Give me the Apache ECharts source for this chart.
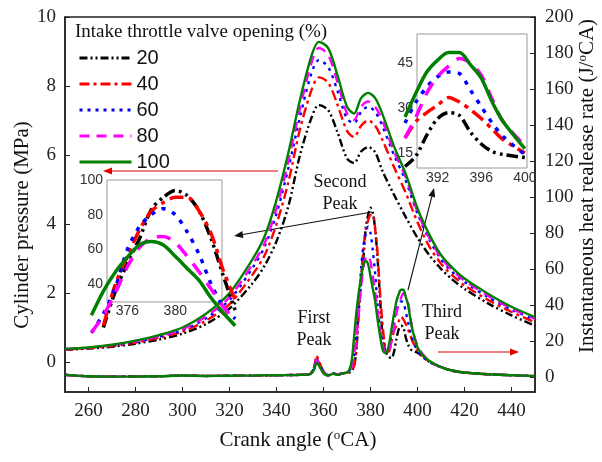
<!DOCTYPE html>
<html>
<head>
<meta charset="utf-8">
<script src="https://cdn.jsdelivr.net/npm/echarts@6/dist/echarts.min.js"></script>
<style>
  html, body { margin: 0; padding: 0; background: #fff; }
  #chart { width: 602px; height: 462px; }
</style>
</head>
<body>
<div id="chart"></div>
<script>
// crank angle grid for cylinder pressure (MPa)
const caP = [250, 260, 270, 280, 290, 300, 310, 320, 330, 335, 340, 345, 350, 355, 358, 362, 366, 370, 373, 376, 379, 382, 385, 390, 395, 400, 405, 410, 415, 420, 430, 440, 450]
const p20 = [0.35, 0.39, 0.44, 0.53, 0.65, 0.82, 1.1, 1.55, 2.3, 2.8, 3.5, 4.5, 6.0, 7.1, 7.45, 7.3, 6.65, 5.9, 5.77, 6.1, 6.23, 6.08, 5.55, 4.85, 4.2, 3.6, 3.1, 2.7, 2.38, 2.12, 1.7, 1.35, 1.05]
const p40 = [0.36, 0.4, 0.46, 0.56, 0.7, 0.88, 1.2, 1.68, 2.55, 3.1, 4.0, 5.2, 6.75, 7.9, 8.25, 8.1, 7.45, 6.7, 6.52, 6.85, 7.0, 6.85, 6.45, 5.65, 4.9, 4.05, 3.35, 2.85, 2.5, 2.22, 1.8, 1.45, 1.15]
const p60 = [0.37, 0.41, 0.48, 0.58, 0.73, 0.92, 1.27, 1.8, 2.75, 3.35, 4.3, 5.6, 7.1, 8.4, 8.75, 8.55, 7.85, 7.05, 6.93, 7.25, 7.4, 7.25, 6.85, 6.0, 5.25, 4.3, 3.55, 2.98, 2.6, 2.32, 1.88, 1.52, 1.22]
const p80 = [0.37, 0.41, 0.49, 0.6, 0.75, 0.95, 1.32, 1.88, 2.85, 3.45, 4.45, 5.8, 7.35, 8.7, 9.1, 8.9, 8.1, 7.2, 7.02, 7.4, 7.55, 7.4, 7.0, 6.1, 5.35, 4.35, 3.6, 3.02, 2.65, 2.36, 1.92, 1.55, 1.25]
const p100 = [0.38, 0.42, 0.5, 0.62, 0.78, 1.0, 1.4, 2.0, 3.0, 3.65, 4.7, 6.05, 7.6, 8.9, 9.28, 9.1, 8.3, 7.4, 7.2, 7.65, 7.8, 7.65, 7.2, 6.25, 5.45, 4.45, 3.7, 3.1, 2.72, 2.42, 1.98, 1.6, 1.3]

// crank angle grid for heat release rate (J/oCA)
const caQ = [250, 260, 270, 280, 290, 300, 310, 320, 330, 340, 350, 354,
  356, 357, 358, 360, 362, 364, 366, 368, 370,
  371, 372, 373, 374, 375, 376, 377, 378, 379, 380, 381, 382, 383, 384, 385, 386, 387, 388, 389, 390, 391, 392, 393, 394, 395, 396, 397, 398,
  400, 402, 405, 410, 415, 420, 430, 440, 450]
const q20 = [1.2, 0.4, 0.2, 0.3, 0.4, 0.8, 0.6, 0.7, 0.8, 1.0, 1.2, 1.5,
  5, 10.5, 8, 3, 1, 2, 1.5, 2, 2.5,
  2.5, 3.5, 6, 15, 36, 52, 66, 83, 90, 94, 91, 82, 66, 45, 25, 16, 12.5, 11, 10.5, 14, 21, 26.5, 28.5, 27.5, 22, 18, 15.5, 14.5,
  13.5, 11.5, 8.5, 5.5, 3.5, 2.5, 1.5, 1, 0.5]
const q40 = [1.2, 0.4, 0.2, 0.3, 0.4, 0.8, 0.6, 0.7, 0.8, 1.0, 1.2, 1.5,
  5.5, 12, 9, 3, 1, 2, 1.5, 2, 2.5,
  3, 4, 6, 16, 40, 56, 71, 82, 87, 90, 90, 82, 69, 48, 31, 19, 14, 14.5, 20, 25.5, 28.5, 31, 33.5, 32, 29.5, 26.5, 23, 19.5,
  15, 12, 8.5, 5.5, 3.5, 2.5, 1.5, 1, 0.5]
const q60 = [1.2, 0.4, 0.2, 0.3, 0.4, 0.8, 0.6, 0.7, 0.8, 1.0, 1.2, 1.5,
  5, 10, 8, 3, 1, 2, 1.5, 2, 2.5,
  3.5, 6, 12, 23, 38, 60, 73, 80, 83.5, 80, 70, 57, 40, 27, 20, 15, 13.5, 16, 25, 32, 37, 40.5, 42, 41.5, 36, 30.5, 25, 20.5,
  14.5, 11.5, 8.5, 5.5, 3.5, 2.5, 1.5, 1, 0.5]
const q80 = [1.2, 0.4, 0.2, 0.3, 0.4, 0.8, 0.6, 0.7, 0.8, 1.0, 1.2, 1.5,
  5, 9.5, 7.5, 2.5, 1, 2, 1.5, 2, 2.5,
  3.5, 6, 12, 22, 35, 50, 61, 66.5, 67.5, 64, 56, 47, 37, 27, 19, 14.5, 13, 15, 20, 27, 35, 40.5, 44, 46.5, 45, 41, 33, 25.5,
  17.5, 13, 9, 5.5, 3.5, 2.5, 1.5, 1, 0.5]
const q100 = [1.2, 0.4, 0.2, 0.3, 0.4, 0.8, 0.6, 0.7, 0.8, 1.0, 1.2, 1.5,
  4, 8, 6.5, 2, 0.8, 1.8, 1.2, 2, 2.5,
  4, 9, 22, 36, 47, 55.5, 62.5, 64.5, 62.5, 56, 49, 42, 32, 23.5, 16, 13.5, 14, 19, 27, 35, 42, 46, 48.5, 48.5, 44.5, 40, 32, 25.5,
  16.5, 12.5, 9, 5.5, 3.5, 2.5, 1.5, 1.0, 0.5]

const openings = ['20', '40', '60', '80', '100']
const pressure = [p20, p40, p60, p80, p100]
const heat = [q20, q40, q60, q80, q100]

// tick labels
const xTicks = [260, 280, 300, 320, 340, 360, 380, 400, 420, 440]
const pTicks = [0, 2, 4, 6, 8, 10]
const qTicks = [0, 20, 40, 60, 80, 100, 120, 140, 160, 180, 200]
const inset1X = [376, 380, 384]
const inset1Y = [40, 60, 80, 100]
const inset2X = [392, 396, 400]
const inset2Y = [15, 30, 45]

const SERIF = 'Liberation Serif, Times New Roman, serif'
const SANS = 'Liberation Sans, Arial, sans-serif'

const looks = {
  '20': { color: '#000000', type: [8, 3, 2, 3, 2, 3] },
  '40': { color: '#ff0000', type: [10, 4, 3, 4] },
  '60': { color: '#0000ff', type: [3, 5] },
  '80': { color: '#ff00ff', type: [10, 7] },
  '100': { color: '#008000', type: 'solid' }
}

const zip = (xs, ys) => xs.map((x, i) => [x, ys[i]])

// part of a heat release curve shown in an inset
const slice = (ys, lo, hi) => caQ.map((x, i) => [x, ys[i]]).filter(d => d[0] >= lo && d[0] <= hi && d[1] >= 10)

const scaleDash = (t, k) => Array.isArray(t) ? t.map(v => v * k) : t

// inset frames (labelled) and the wider, hidden data areas drawn at the same scale
const in1 = { left: 107, top: 180, width: 115, height: 122, x: [374.3, 383.9], y: [29.7, 100] }
const in2 = { left: 417, top: 34, width: 110, height: 134, x: [390.1, 400.2], y: [10, 54.7] }
const widen = (f, x, y) => {
  const kx = f.width / (f.x[1] - f.x[0]), ky = f.height / (f.y[1] - f.y[0])
  return {
    left: f.left - (f.x[0] - x[0]) * kx, width: (x[1] - x[0]) * kx,
    top: f.top - (y[1] - f.y[1]) * ky, height: (y[1] - y[0]) * ky, x, y
  }
}
const in1d = widen(in1, [371, 387], [0, 100])
const in2d = widen(in2, [387, 402], [0, 54.7])

const series = []
openings.forEach((name, i) => {
  const lk = looks[name]
  series.push({
    name, type: 'line', xAxisIndex: 0, yAxisIndex: 0, symbol: 'none', smooth: 0.3,
    lineStyle: { color: lk.color, type: lk.type, width: 2.4 }, itemStyle: { color: lk.color },
    data: zip(caP, pressure[i])
  })
})
openings.forEach((name, i) => {
  const lk = looks[name]
  series.push({
    name, type: 'line', xAxisIndex: 0, yAxisIndex: 1, symbol: 'none', smooth: 0.3,
    lineStyle: { color: lk.color, type: lk.type, width: 2.4 }, itemStyle: { color: lk.color },
    data: zip(caQ, heat[i])
  })
})
openings.forEach((name, i) => {
  const lk = looks[name]
  series.push({
    name, type: 'line', xAxisIndex: 3, yAxisIndex: 6, symbol: 'none', smooth: 0.3, clip: false,
    lineStyle: { color: lk.color, type: scaleDash(lk.type, 1.4), width: 3.5 }, itemStyle: { color: lk.color },
    data: slice(heat[i], 373, 385)
  })
  series.push({
    name, type: 'line', xAxisIndex: 4, yAxisIndex: 7, symbol: 'none', smooth: 0.3, clip: false,
    lineStyle: { color: lk.color, type: scaleDash(lk.type, 1.4), width: 3.5 }, itemStyle: { color: lk.color },
    data: slice(heat[i], 389, 400)
  })
})

// thin line with a filled head at (x2, y2)
const arrow = (x1, y1, x2, y2, color) => {
  const a = Math.atan2(y2 - y1, x2 - x1)
  const L = 9, W = 3.5
  const bx = x2 - L * Math.cos(a), by = y2 - L * Math.sin(a)
  return [
    { type: 'line', shape: { x1, y1, x2: bx, y2: by }, style: { stroke: color, lineWidth: 1.1 } },
    { type: 'polygon', shape: { points: [[x2, y2], [bx - W * Math.sin(a), by + W * Math.cos(a)], [bx + W * Math.sin(a), by - W * Math.cos(a)]] }, style: { fill: color } }
  ]
}

const label = (x, y, text, size, extra) => Object.assign({
  type: 'text', x, y,
  style: { text, fill: '#111', font: size + 'px ' + SERIF, textAlign: 'center', textVerticalAlign: 'middle', align: 'center', verticalAlign: 'middle', lineHeight: size + 4 }
}, extra || {})

const supRich = { s: { fontSize: 13, fontFamily: SERIF, verticalAlign: 'top', fill: '#111' } }

const chart = echarts.init(document.getElementById('chart'), null, { renderer: 'canvas' })

const insetLabel = { fontSize: 14, fontFamily: SANS, color: '#333' }
const hidden = { show: false }
const hiddenAxis = (gridIndex, r) => ({
  type: 'value', gridIndex, min: r[0], max: r[1], show: false,
  axisLine: hidden, axisTick: hidden, axisLabel: hidden, splitLine: hidden
})

chart.setOption({
  animation: false,
  backgroundColor: '#fff',
  legend: {
    data: openings, orient: 'vertical', left: 78, top: 48, padding: 0,
    itemWidth: 52, itemHeight: 20, itemGap: 6,
    lineStyle: { width: 3 },
    itemStyle: { opacity: 0, color: 'transparent', borderWidth: 0 },
    textStyle: { fontSize: 20, fontFamily: SANS, color: '#111' }
  },
  grid: [
    { left: 65, top: 17, width: 470, height: 375, show: true, borderColor: '#222', borderWidth: 1.5, outerBoundsMode: 'none' },
    { left: in1.left, top: in1.top, width: in1.width, height: in1.height, show: true, borderColor: '#999', borderWidth: 1, outerBoundsMode: 'none' },
    { left: in2.left, top: in2.top, width: in2.width, height: in2.height, show: true, borderColor: '#999', borderWidth: 1, outerBoundsMode: 'none' },
    { left: in1d.left, top: in1d.top, width: in1d.width, height: in1d.height, show: false, outerBoundsMode: 'none' },
    { left: in2d.left, top: in2d.top, width: in2d.width, height: in2d.height, show: false, outerBoundsMode: 'none' }
  ],
  xAxis: [
    {
      type: 'value', gridIndex: 0, min: 250, max: 450,
      axisLine: { show: true, onZero: false, lineStyle: { color: '#222', width: 1.5 } },
      axisTick: { show: true, inside: true, length: 5, customValues: xTicks, lineStyle: { color: '#222' } },
      axisLabel: { customValues: xTicks, margin: 10, fontSize: 19, fontFamily: SERIF, color: '#222' },
      splitLine: { show: false }
    },
    {
      type: 'value', gridIndex: 1, min: in1.x[0], max: in1.x[1],
      axisLine: { show: false, onZero: false }, axisTick: { show: false },
      axisLabel: Object.assign({ customValues: inset1X, margin: 2 }, insetLabel),
      splitLine: { show: false }
    },
    {
      type: 'value', gridIndex: 2, min: in2.x[0], max: in2.x[1],
      axisLine: { show: false, onZero: false }, axisTick: { show: false },
      axisLabel: Object.assign({ customValues: inset2X, margin: 3 }, insetLabel),
      splitLine: { show: false }
    },
    hiddenAxis(3, in1d.x),
    hiddenAxis(4, in2d.x)
  ],
  yAxis: [
    {
      type: 'value', gridIndex: 0, position: 'left', min: -0.87, max: 10,
      axisLine: { show: true, onZero: false, lineStyle: { color: '#222', width: 1.5 } },
      axisTick: { show: true, inside: true, length: 5, customValues: pTicks, lineStyle: { color: '#222' } },
      axisLabel: { customValues: pTicks, margin: 9, fontSize: 19, fontFamily: SERIF, color: '#222' },
      splitLine: { show: false }
    },
    {
      type: 'value', gridIndex: 0, position: 'right', min: -8.33, max: 200,
      axisLine: { show: true, onZero: false, lineStyle: { color: '#222', width: 1.5 } },
      axisTick: { show: true, inside: true, length: 5, customValues: qTicks, lineStyle: { color: '#222' } },
      axisLabel: { customValues: qTicks, margin: 10, fontSize: 19, fontFamily: SERIF, color: '#222' },
      splitLine: { show: false }
    },
    {
      type: 'value', gridIndex: 1, min: in1.y[0], max: in1.y[1],
      axisLine: { show: false, onZero: false }, axisTick: { show: false },
      axisLabel: Object.assign({ customValues: inset1Y, margin: 4 }, insetLabel),
      splitLine: { show: false }
    },
    {
      type: 'value', gridIndex: 2, min: in2.y[0], max: in2.y[1],
      axisLine: { show: false, onZero: false }, axisTick: { show: false },
      axisLabel: Object.assign({ customValues: inset2Y, margin: 4 }, insetLabel),
      splitLine: { show: false }
    },
    hiddenAxis(1, [0, 1]),
    hiddenAxis(2, [0, 1]),
    hiddenAxis(3, in1d.y),
    hiddenAxis(4, in2d.y)
  ],
  graphic: [
    {
      type: 'text', x: 75, y: 32,
      style: { text: 'Intake throttle valve opening (%)', fill: '#111', font: '19px ' + SERIF, textAlign: 'left', align: 'left', textVerticalAlign: 'middle', verticalAlign: 'middle' }
    },
    label(340, 193, 'Second\nPeak', 18),
    label(314, 329, 'First\nPeak', 18),
    label(442, 323, 'Third\nPeak', 18),
    {
      type: 'text', x: 298, y: 440,
      style: { text: 'Crank angle ({s|o}CA)', rich: supRich, fill: '#111', font: '21px ' + SERIF, fontSize: 21, fontFamily: SERIF, textAlign: 'center', align: 'center', textVerticalAlign: 'middle', verticalAlign: 'middle' }
    },
    {
      type: 'text', x: 22, y: 225, rotation: Math.PI / 2,
      style: { text: 'Cylinder pressure (MPa)', fill: '#111', font: '21px ' + SERIF, textAlign: 'center', align: 'center', textVerticalAlign: 'middle', verticalAlign: 'middle' }
    },
    {
      type: 'text', x: 587, y: 186, rotation: Math.PI / 2,
      style: { text: 'Instantaneous heat realease rate (J/{s|o}CA)', rich: supRich, fill: '#111', font: '21px ' + SERIF, fontSize: 21, fontFamily: SERIF, textAlign: 'center', align: 'center', textVerticalAlign: 'middle', verticalAlign: 'middle' }
    },
    ...arrow(278, 171, 103, 171, '#e00000'),
    ...arrow(438, 352, 519, 352, '#e00000'),
    ...arrow(372, 212, 234, 236, '#111'),
    ...arrow(408, 290, 434, 188, '#111')
  ],
  series
})
</script>
</body>
</html>
